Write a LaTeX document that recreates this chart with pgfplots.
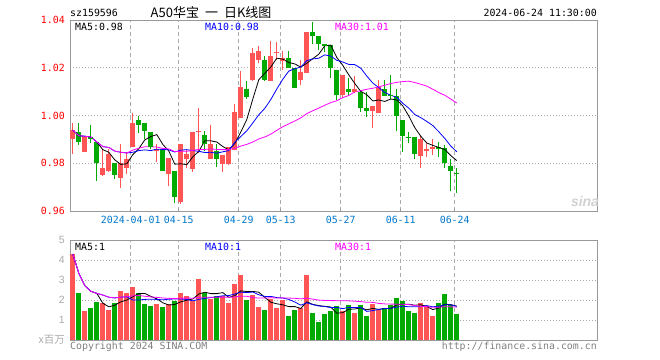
\documentclass[border=0pt]{standalone}
\usepackage{fontspec}
\usepackage{pgfplots}
\usepackage{pgfplotstable}
\pgfplotsset{compat=1.18}
\setmonofont{DejaVu Sans Mono}
\newfontfamily\cjk{Noto Sans CJK SC}
\newfontfamily\lsans{Liberation Sans}
\newcommand\mono{\ttfamily\fontsize{9.9bp}{10bp}\selectfont}
\definecolor{cred}{RGB}{255,85,85}
\definecolor{cgreen}{RGB}{0,170,0}
\definecolor{cgrid}{RGB}{170,170,170}
\definecolor{cframe}{RGB}{153,153,153}
\definecolor{cdate}{RGB}{0,119,204}
\definecolor{cma10}{RGB}{0,0,255}
\definecolor{cma30}{RGB}{255,0,255}
\definecolor{ctext}{RGB}{128,128,128}

% red (up) candles: index open high low close
\pgfplotstableread{
i o h l c
0 0.9903 0.9970 0.9837 0.9939
2 0.9851 0.9910 0.9847 0.9909
5 0.9751 0.9858 0.9747 0.9780
6 0.9768 0.9858 0.9763 0.9837
8 0.9739 0.9881 0.9698 0.9802
9 0.9781 0.9847 0.9756 0.9819
10 0.9869 1.0012 0.9869 0.9970
14 0.9853 0.9881 0.9806 0.9858
16 0.9759 0.9822 0.9703 0.9822
18 0.9641 0.9881 0.9629 0.9881
19 0.9819 0.9857 0.9780 0.9839
20 0.9780 0.9931 0.9763 0.9931
21 0.9931 1.0031 0.9843 0.9936
23 0.9822 0.9959 0.9819 0.9881
25 0.9801 0.9833 0.9763 0.9833
26 0.9801 0.9867 0.9794 0.9867
27 0.9856 1.0048 0.9856 1.0015
28 0.9990 1.0185 0.9990 1.0121
30 1.0150 1.0283 1.0146 1.0263
31 1.0234 1.0290 1.0220 1.0271
33 1.0147 1.0313 1.0143 1.0249
34 1.0263 1.0308 1.0232 1.0268
35 1.0231 1.0269 1.0192 1.0241
38 1.0149 1.0231 1.0129 1.0182
39 1.0182 1.0350 1.0178 1.0350
45 1.0090 1.0170 1.0073 1.0170
47 1.0101 1.0165 1.0094 1.0111
50 1.0020 1.0040 0.9949 1.0040
51 1.0012 1.0149 1.0012 1.0118
58 0.9832 0.9918 0.9779 0.9902
59 0.9853 0.9886 0.9827 0.9860
60 0.9860 0.9900 0.9835 0.9867
}\redc

% green (down) candles
\pgfplotstableread{
i o h l c
1 0.9931 0.9970 0.9876 0.9890
3 0.9909 0.9961 0.9884 0.9902
4 0.9889 0.9889 0.9727 0.9802
7 0.9802 0.9802 0.9733 0.9751
11 0.9981 0.9998 0.9925 0.9961
12 0.9970 0.9970 0.9903 0.9939
13 0.9931 0.9931 0.9858 0.9869
15 0.9858 0.9858 0.9768 0.9768
17 0.9766 0.9766 0.9633 0.9662
22 0.9917 0.9934 0.9850 0.9881
24 0.9850 0.9881 0.9783 0.9819
29 1.0112 1.0143 1.0070 1.0080
32 1.0232 1.0248 1.0143 1.0149
36 1.0241 1.0270 1.0202 1.0203
37 1.0199 1.0199 1.0115 1.0119
40 1.0350 1.0392 1.0300 1.0335
41 1.0331 1.0333 1.0274 1.0300
42 1.0300 1.0300 1.0266 1.0293
43 1.0297 1.0297 1.0157 1.0199
44 1.0192 1.0192 1.0065 1.0090
46 1.0111 1.0157 1.0080 1.0101
48 1.0100 1.0107 1.0015 1.0033
49 1.0030 1.0098 0.9995 1.0020
52 1.0110 1.0149 1.0085 1.0085
53 1.0087 1.0170 1.0068 1.0082
54 1.0082 1.0110 0.9936 0.9999
55 0.9981 0.9981 0.9848 0.9918
56 0.9910 0.9932 0.9886 0.9907
57 0.9910 0.9910 0.9817 0.9839
61 0.9867 0.9890 0.9827 0.9861
62 0.9863 0.9876 0.9779 0.9802
63 0.9788 0.9817 0.9685 0.9769
64 0.9759 0.9779 0.9677 0.9756
}\greenc

% price moving averages
\pgfplotstableread{
i ma5 ma10 ma30
0 0.9939 0.9939 0.9939
1 0.9915 0.9915 0.9915
2 0.9913 0.9913 0.9913
3 0.9910 0.9910 0.9910
4 0.9889 0.9889 0.9889
5 0.9857 0.9870 0.9870
6 0.9846 0.9866 0.9866
7 0.9814 0.9851 0.9851
8 0.9795 0.9846 0.9846
9 0.9798 0.9843 0.9843
10 0.9836 0.9846 0.9855
11 0.9861 0.9853 0.9863
12 0.9898 0.9856 0.9869
13 0.9912 0.9853 0.9869
14 0.9920 0.9859 0.9868
15 0.9879 0.9858 0.9862
16 0.9851 0.9856 0.9860
17 0.9796 0.9847 0.9849
18 0.9798 0.9855 0.9850
19 0.9794 0.9857 0.9850
20 0.9827 0.9853 0.9854
21 0.9850 0.9850 0.9858
22 0.9894 0.9845 0.9858
23 0.9894 0.9846 0.9860
24 0.9889 0.9842 0.9858
25 0.9870 0.9848 0.9857
26 0.9856 0.9853 0.9857
27 0.9883 0.9888 0.9863
28 0.9931 0.9912 0.9872
29 0.9983 0.9936 0.9879
30 1.0069 0.9969 0.9889
31 1.0150 1.0003 0.9902
32 1.0177 1.0030 0.9910
33 1.0203 1.0067 0.9922
34 1.0240 1.0111 0.9938
35 1.0236 1.0152 0.9953
36 1.0222 1.0186 0.9965
37 1.0216 1.0196 0.9977
38 1.0203 1.0203 0.9990
39 1.0219 1.0230 1.0008
40 1.0238 1.0237 1.0020
41 1.0257 1.0240 1.0031
42 1.0292 1.0254 1.0043
43 1.0295 1.0249 1.0054
44 1.0243 1.0231 1.0062
45 1.0210 1.0224 1.0075
46 1.0170 1.0214 1.0084
47 1.0134 1.0213 1.0099
48 1.0101 1.0198 1.0104
49 1.0087 1.0165 1.0110
50 1.0061 1.0136 1.0114
51 1.0065 1.0117 1.0120
52 1.0059 1.0096 1.0127
53 1.0069 1.0085 1.0134
54 1.0065 1.0076 1.0139
55 1.0040 1.0051 1.0142
56 0.9998 1.0031 1.0144
57 0.9949 1.0004 1.0138
58 0.9913 0.9991 1.0131
59 0.9885 0.9975 1.0123
60 0.9875 0.9958 1.0110
61 0.9866 0.9932 1.0096
62 0.9858 0.9904 1.0085
63 0.9832 0.9872 1.0069
64 0.9811 0.9848 1.0052
}\pma

% volume (millions) red days
\pgfplotstableread{
i v
0 4.30
2 1.47
5 1.83
6 1.50
8 2.45
9 2.37
10 2.65
14 1.80
16 1.80
18 2.37
19 2.20
20 1.95
21 3.05
23 2.05
25 2.20
26 1.85
27 2.80
28 3.25
30 2.25
31 1.65
33 2.05
34 1.60
35 2.00
38 1.60
39 3.25
45 1.47
47 1.37
50 1.82
51 1.50
58 1.87
59 1.70
60 1.20
}\redv

% volume green days
\pgfplotstableread{
i v
1 2.37
3 1.60
4 1.92
7 1.83
11 2.37
12 1.80
13 1.70
15 1.65
17 1.95
22 2.37
24 2.20
29 2.00
32 1.50
36 1.20
37 1.50
40 1.35
41 0.90
42 1.30
43 1.47
44 1.70
46 1.75
48 1.75
49 1.20
52 1.62
53 1.75
54 2.12
55 1.97
56 1.47
57 1.37
61 1.87
62 2.32
63 1.75
64 1.32
}\greenv

% volume moving averages
\pgfplotstableread{
i v5 v10 v30
0 4.300 4.300 4.300
1 3.335 3.335 3.335
2 2.713 2.713 2.713
3 2.435 2.435 2.435
4 2.330 2.332 2.332
5 1.840 2.248 2.248
6 1.660 2.141 2.141
7 1.740 2.103 2.103
8 1.910 2.141 2.141
9 2.000 2.160 2.164
10 2.160 2.000 2.208
11 2.330 2.000 2.222
12 2.330 2.030 2.189
13 2.180 2.040 2.154
14 2.060 2.030 2.131
15 1.860 2.010 2.101
16 1.750 2.040 2.083
17 1.780 2.050 2.076
18 1.910 2.050 2.091
19 1.990 2.030 2.097
20 2.050 1.960 2.090
21 2.300 2.030 2.133
22 2.390 2.080 2.143
23 2.320 2.120 2.140
24 2.320 2.160 2.142
25 2.370 2.210 2.144
26 2.130 2.220 2.133
27 2.220 2.300 2.157
28 2.460 2.390 2.195
29 2.420 2.370 2.188
30 2.430 2.400 2.120
31 2.390 2.260 2.096
32 2.130 2.180 2.097
33 1.890 2.180 2.112
34 1.810 2.120 2.101
35 1.760 2.100 2.107
36 1.670 2.030 2.097
37 1.670 1.900 2.086
38 1.580 1.740 2.058
39 1.910 1.860 2.087
40 1.780 1.770 2.044
41 1.720 1.700 1.995
42 1.680 1.680 1.978
43 1.650 1.620 1.970
44 1.340 1.630 1.967
45 1.370 1.570 1.961
46 1.540 1.630 1.959
47 1.550 1.620 1.940
48 1.610 1.630 1.919
49 1.510 1.430 1.886
50 1.580 1.470 1.882
51 1.530 1.530 1.830
52 1.580 1.570 1.805
53 1.580 1.590 1.795
54 1.760 1.640 1.792
55 1.790 1.690 1.785
56 1.790 1.660 1.772
57 1.740 1.660 1.724
58 1.760 1.670 1.678
59 1.680 1.720 1.668
60 1.520 1.660 1.633
61 1.600 1.690 1.641
62 1.790 1.760 1.668
63 1.770 1.760 1.658
64 1.690 1.680 1.649
}\vma

\pgfplotsset{
  kbase/.style={
    scale only axis, width=527bp,
    xmin=-0.47, xmax=87.37,
    axis line style={draw=cframe, line width=1bp},
    xtick={9.65,17.65,27.65,34.65,44.65,54.65,63.65},
    xmajorgrids, ymajorgrids,
    x grid style={draw=cgrid, dash pattern=on 4bp off 3bp, line width=0.9bp},
    y grid style={draw=cgrid, dash pattern=on 1.2bp off 1.8bp, line width=0.9bp},
    ytick style={draw=none},
    clip=true,
  },
  wick/.style={draw=none, mark=none, forget plot,
    error bars/.cd, y dir=plus, y explicit, error mark=none,
    error bar style={line width=1bp, draw=#1, solid}},
  body/.style={only marks, mark=-, mark size=2.5bp,
    mark options={draw=#1, line width=1bp, solid}, forget plot,
    error bars/.cd, y dir=plus, y explicit, error mark=none,
    error bar style={line width=5bp, draw=#1, solid}},
}

\begin{document}
\begin{tikzpicture}
\path[use as bounding box] (0,0) rectangle (660bp,-360bp);

\begin{axis}[kbase,
  at={(70bp,-211bp)}, anchor=south west, height=191bp,
  ymin=0.96, ymax=1.04,
  ytick={0.96,0.98,1,1.02,1.04},
  yticklabels={0.96,0.98,1.00,1.02,1.04},
  yticklabel style={font=\mono, text=red, inner sep=0pt, xshift=-5bp},
  xticklabels={2024-04-01,04-15,04-29,05-13,05-27,06-11,06-24},
  xticklabel style={font=\mono, text=cdate, inner sep=0pt, yshift=-5bp},
  xtick style={draw=cframe, line width=0.8bp},
  major tick length=2.5bp, tick align=inside, xtick pos=bottom,
]
\addplot[wick=cred] table[x=i, y=l, y error plus expr=\thisrow{h}-\thisrow{l}] {\redc};
\addplot[body=cred] table[x=i, y=o, y error plus expr=\thisrow{c}-\thisrow{o}] {\redc};
\addplot[wick=cgreen] table[x=i, y=l, y error plus expr=\thisrow{h}-\thisrow{l}] {\greenc};
\addplot[body=cgreen] table[x=i, y=c, y error plus expr=\thisrow{o}-\thisrow{c}] {\greenc};
\addplot[black, line width=0.8bp, mark=none] table[x=i, y=ma5] {\pma};
\addplot[cma10, line width=0.8bp, mark=none] table[x=i, y=ma10] {\pma};
\addplot[cma30, line width=0.8bp, mark=none] table[x=i, y=ma30] {\pma};
\end{axis}

\begin{axis}[kbase,
  at={(70bp,-340bp)}, anchor=south west, height=100bp,
  ymin=0, ymax=5,
  ytick={0,1,2,3,4,5},
  yticklabels={{\cjk x百万},1,2,3,4,5},
  yticklabel style={font=\lsans\fontsize{10.5bp}{11bp}\selectfont, text=cgrid, inner sep=0pt, xshift=-5bp},
  xticklabels={},
  xtick style={draw=none},
]
\addplot[ycomb, cred, line width=5bp, mark=none] table[x=i, y=v] {\redv};
\addplot[ycomb, cgreen, line width=5bp, mark=none] table[x=i, y=v] {\greenv};
\addplot[black, line width=0.8bp, mark=none] table[x=i, y=v5] {\vma};
\addplot[cma10, line width=0.8bp, mark=none] table[x=i, y=v10] {\vma};
\addplot[cma30, line width=0.8bp, mark=none] table[x=i, y=v30] {\vma};
\end{axis}

% header texts
\node[anchor=west, font=\mono, inner sep=0pt] at (70bp,-13bp) {sz159596};
\node[anchor=west, font=\cjk\fontsize{13bp}{13bp}\selectfont, inner sep=0pt] at (150.5bp,-13bp) {A50华宝\hspace{6bp}一\hspace{6bp}日K线图};
\node[anchor=east, font=\mono, inner sep=0pt] at (597bp,-13bp) {2024-06-24 11:30:00};
% MA labels, price panel
\node[anchor=west, font=\mono, inner sep=0pt] at (75bp,-26.5bp) {MA5:0.98};
\node[anchor=west, font=\mono, inner sep=0pt, text=cma10] at (205bp,-26.5bp) {MA10:0.98};
\node[anchor=west, font=\mono, inner sep=0pt, text=cma30] at (335bp,-26.5bp) {MA30:1.01};
% MA labels, volume panel
\node[anchor=west, font=\mono, inner sep=0pt] at (75bp,-246.5bp) {MA5:1};
\node[anchor=west, font=\mono, inner sep=0pt, text=cma10] at (205bp,-246.5bp) {MA10:1};
\node[anchor=west, font=\mono, inner sep=0pt, text=cma30] at (335bp,-246.5bp) {MA30:1};
% watermark
\node[font=\lsans\bfseries\itshape\fontsize{14bp}{14bp}\selectfont, text=black!18, inner sep=0pt] at (585bp,-201bp) {sina};
% footer
\node[anchor=west, font=\mono, inner sep=0pt, text=ctext] at (70bp,-346.5bp) {Copyright 2024 SINA.COM};
\node[anchor=east, font=\mono, inner sep=0pt, text=ctext] at (597bp,-346.5bp) {http://finance.sina.com.cn};
\end{tikzpicture}
\end{document}
